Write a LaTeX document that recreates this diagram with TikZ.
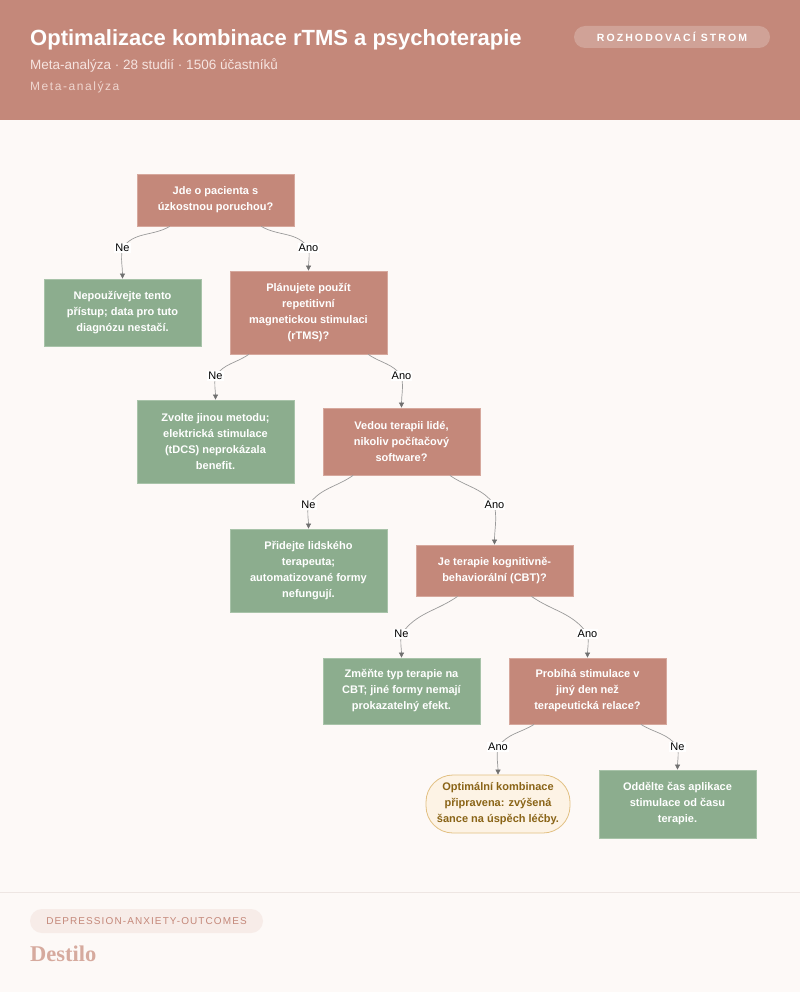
\documentclass[tikz,border=0pt]{standalone}
\usepackage{fontspec}
\setmainfont{Liberation Sans}
\newfontfamily\badgefont[LetterSpace=20]{Liberation Sans}
\newfontfamily\metafont[LetterSpace=13]{Liberation Sans}
\newfontfamily\tagfont[LetterSpace=11]{Liberation Sans}
\newfontfamily\logofont{Liberation Serif}
\usepackage{xcolor}
\usetikzlibrary{arrows.meta}
\definecolor{headc}{HTML}{C4887A}
\definecolor{qfill}{HTML}{C4887A}
\definecolor{qline}{HTML}{D6A89D}
\definecolor{gfill}{HTML}{8CAD8E}
\definecolor{gline}{HTML}{A8C3A9}
\definecolor{okfill}{HTML}{FDF3E5}
\definecolor{okline}{HTML}{E2C082}
\definecolor{oktext}{HTML}{8A6417}
\definecolor{bgc}{HTML}{FDF9F7}
\definecolor{edgec}{HTML}{9A9A9A}
\definecolor{tipc}{HTML}{707070}
\definecolor{subc}{HTML}{F6E4E0}
\definecolor{metac}{HTML}{EFD6CF}
\definecolor{pillc}{HTML}{D0A297}
\definecolor{tagfill}{HTML}{F7ECE8}
\definecolor{tagtext}{HTML}{C4887A}
\definecolor{logoc}{HTML}{D6AA9E}
\definecolor{rulec}{HTML}{EEE6E3}
\tikzset{quest/.style={draw=qline, fill=qfill, text=white, line width=.8pt,
   minimum width=157pt, inner sep=0pt, align=center,
   font=\fontsize{11}{16}\selectfont\bfseries},
 outc/.style={quest, draw=gline, fill=gfill},
 goal/.style={quest, draw=okline, fill=okfill, text=oktext,
   minimum width=144pt, minimum height=58pt, rounded corners=27pt},
 edge/.style={draw=edgec, line width=.7pt,
   -{Triangle[length=5pt,width=5pt,color=tipc]}},
 lbl/.style={fill=white, inner sep=1pt, font=\fontsize{11}{13}\selectfont},
 }

\begin{document}
\begin{tikzpicture}[x=1pt,y=1pt]
        \useasboundingbox (0,0) rectangle (800,-992);
        \fill[bgc] (0,0) rectangle (800,-992);
        \fill[headc] (0,0) rectangle (800,-120);
        \draw[rulec, line width=1pt] (0,-892) -- (800,-892);

        % header
        \node[anchor=base west, inner sep=0pt, text=white, font=\fontsize{22}{26}\selectfont\bfseries] (title) at (30,-46) {Optimalizace kombinace rTMS a psychoterapie};
        \node[anchor=base west, inner sep=0pt, text=subc, font=\fontsize{13.5}{16}\selectfont] (sub) at (30,-70) {Meta-analýza · 28 studií · 1506 účastníků};
        \node[anchor=base west, inner sep=0pt, text=metac, font=\metafont\fontsize{12}{14}\selectfont] (meta) at (30,-91) {Meta-analýza};
        \node[fill=pillc, rounded corners=11pt, minimum width=196pt, minimum height=22pt, inner sep=0pt, text=white, font=\badgefont\fontsize{10.5}{12}\selectfont\bfseries] (badge) at (672,-37) {ROZHODOVACÍ STROM};

        % tree
        \coordinate (l1) at (0,-248);
        \coordinate (l2) at (0,-376);
        \coordinate (l3) at (0,-505);
        \coordinate (l4) at (0,-634);
        \coordinate (l5) at (0,-747);
        \node[quest, minimum height=52pt] (q1) at (215.5,-200) {Jde o pacienta s\\úzkostnou poruchou?};
        \node[outc, minimum height=67pt] (r1) at (122.5,-312.5) {Nepoužívejte tento\\přístup; data pro tuto\\diagnózu nestačí.};
        \node[quest, minimum height=83pt] (q2) at (308.5,-312.5) {Plánujete použít\\repetitivní\\magnetickou stimulaci\\(rTMS)?};
        \node[outc, minimum height=83pt] (r2) at (215.5,-441.5) {Zvolte jinou metodu;\\elektrická stimulace\\(tDCS) neprokázala\\benefit.};
        \node[quest, minimum height=67pt] (q3) at (401.5,-441.5) {Vedou terapii lidé,\\nikoliv počítačový\\software?};
        \node[outc, minimum height=83pt] (r3) at (308.5,-570.5) {Přidejte lidského\\terapeuta;\\automatizované formy\\nefungují.};
        \node[quest, minimum height=51pt] (q4) at (494.5,-570.5) {Je terapie kognitivně-\\behaviorální (CBT)?};
        \node[outc, minimum height=66pt] (r4) at (401.5,-691) {Změňte typ terapie na\\CBT; jiné formy nemají\\prokazatelný efekt.};
        \node[quest, minimum height=66pt] (q5) at (587.5,-691) {Probíhá stimulace v\\jiný den než\\terapeutická relace?};
        \node[goal] (ok) at (498,-804) {Optimální kombinace\\připravena: zvýšená\\šance na úspěch léčby.};
        \node[outc, minimum height=68pt] (r5) at (677.5,-804) {Oddělte čas aplikace\\stimulace od času\\terapie.};

        \draw[edge] (q1) to[out=-150,in=55] (r1 |- l1) node[lbl] (e1) {Ne} to[out=-100,in=90] (r1);
        \draw[edge] (q1) to[out=-30,in=125] (q2 |- l1) node[lbl] (e2) {Ano} to[out=-80,in=90] (q2);
        \draw[edge] (q2) to[out=-145,in=55] (r2 |- l2) node[lbl] (e3) {Ne} to[out=-100,in=90] (r2);
        \draw[edge] (q2) to[out=-35,in=125] (q3 |- l2) node[lbl] (e4) {Ano} to[out=-80,in=90] (q3);
        \draw[edge] (q3) to[out=-145,in=55] (r3 |- l3) node[lbl] (e5) {Ne} to[out=-100,in=90] (r3);
        \draw[edge] (q3) to[out=-35,in=125] (q4 |- l3) node[lbl] (e6) {Ano} to[out=-80,in=90] (q4);
        \draw[edge] (q4) to[out=-145,in=55] (r4 |- l4) node[lbl] (e7) {Ne} to[out=-100,in=90] (r4);
        \draw[edge] (q4) to[out=-35,in=125] (q5 |- l4) node[lbl] (e8) {Ano} to[out=-80,in=90] (q5);
        \draw[edge] (q5) to[out=-148,in=55] (ok |- l5) node[lbl] (e9) {Ano} to[out=-100,in=90] (ok);
        \draw[edge] (q5) to[out=-32,in=125] (r5 |- l5) node[lbl] (e10) {Ne} to[out=-80,in=90] (r5);

        % footer
        \node[fill=tagfill, rounded corners=12pt, minimum width=233pt, minimum height=24pt, inner sep=0pt, text=tagtext, font=\tagfont\fontsize{10}{12}\selectfont] (tag) at (146.5,-921) {DEPRESSION-ANXIETY-OUTCOMES};
        \node[anchor=base west, inner sep=0pt, text=logoc, font=\logofont\fontsize{22.5}{26}\selectfont\bfseries] (logo) at (30,-961) {Destilo};
    \end{tikzpicture}
\end{document}
